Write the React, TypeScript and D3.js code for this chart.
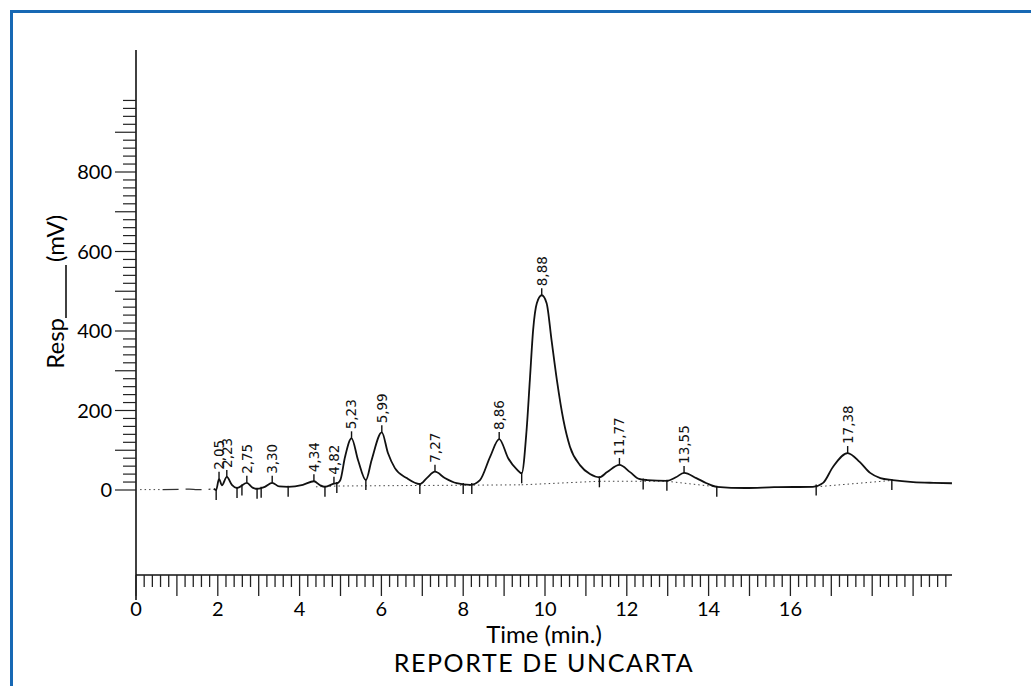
import React from "react";
import * as d3 from "d3";

type Pt = [number, number];

// trace: [time (min), response (mV)]
const leadTrace: Pt[] = [[0.65, 1], [1.3, 2], [1.5, 1], [1.82, 2]];
const trace: Pt[] = [
  [1.9, 3], [1.96, 0], [2.03, 28], [2.1, 12], [2.22, 33], [2.35, 12], [2.47, 5],
  [2.71, 18], [2.85, 6], [2.96, 3], [3.15, 8], [3.33, 18], [3.5, 9], [3.72, 8],
  [4.08, 13], [4.35, 22], [4.5, 12], [4.62, 8], [4.84, 16], [4.94, 18], [5.0, 26],
  [5.11, 83], [5.27, 130], [5.43, 75], [5.62, 25], [5.76, 75], [6.01, 145],
  [6.16, 93], [6.33, 55], [6.62, 30], [6.94, 15], [7.11, 30], [7.31, 46],
  [7.55, 30], [7.84, 17], [8.17, 13], [8.41, 25], [8.66, 84], [8.88, 128],
  [9.1, 80], [9.31, 52], [9.43, 42], [9.55, 151], [9.63, 277], [9.71, 403],
  [9.8, 470], [9.92, 490], [10.04, 470], [10.16, 377], [10.29, 277], [10.45, 176],
  [10.61, 109], [10.86, 62], [11.1, 40], [11.33, 32], [11.52, 45], [11.82, 63],
  [12.08, 45], [12.3, 28], [12.5, 25], [12.98, 23], [13.2, 32], [13.4, 43],
  [13.7, 30], [13.95, 17], [14.2, 8], [14.9, 5], [15.6, 7], [16.55, 8],
  [16.8, 18], [17.04, 58], [17.4, 93], [17.7, 70], [17.95, 43], [18.2, 30],
  [18.5, 25], [19.0, 20], [19.5, 18], [19.95, 17],
];

const peakTimes = [2.03, 2.22, 2.71, 3.33, 4.35, 4.84, 5.27, 6.01, 7.31, 8.88, 9.92, 11.82, 13.4, 17.4];
const peakLabels = ["2,05", "2,23", "2,75", "3,30", "4,34", "4,82", "5,23", "5,99", "7,27", "8,86", "8,88", "11,77", "13,55", "17,38"];

// integration marks under the trace
const markerTimes = [1.96, 2.47, 2.59, 2.96, 3.06, 3.72, 4.62, 4.91, 5.62, 6.94, 8.0, 8.21, 9.43, 11.33, 12.4, 12.98, 14.2, 16.63, 18.48];

// dotted drop baselines
const baselines: Pt[][] = [
  [[0.1, 1], [0.6, 1]],
  [[4.4, 8], [4.91, 10], [9.43, 13]],
  [[9.43, 13], [11.33, 22]],
  [[11.33, 22], [12.98, 22], [14.2, 8]],
  [[16.63, 8], [18.48, 24]],
];

const xTickLabels = [0, 2, 4, 6, 8, 10, 12, 14, 16];
const yTickLabels = [0, 200, 400, 600, 800];

const W = 1031;
const H = 686;
const font = "Lato, 'Open Sans', sans-serif";

export default function App() {
  const x = d3.scaleLinear().domain([0, 20]).range([136, 954]);
  const y = d3.scaleLinear().domain([0, 800]).range([490, 172]);
  const axisY = 575;

  const line = d3
    .line<Pt>()
    .x((d) => x(d[0]))
    .y((d) => y(d[1]))
    .curve(d3.curveMonotoneX);
  const straight = d3
    .line<Pt>()
    .x((d) => x(d[0]))
    .y((d) => y(d[1]));

  // response at a given time, linear between read points
  const bis = d3.bisector((d: Pt) => d[0]).left;
  const valueAt = (t: number) => {
    const i = bis(trace, t);
    if (i <= 0) return trace[0][1];
    if (i >= trace.length) return trace[trace.length - 1][1];
    const a = trace[i - 1];
    const b = trace[i];
    return a[1] + ((t - a[0]) / (b[0] - a[0])) * (b[1] - a[1]);
  };

  const xTicks = d3.range(0, 100).map((i) => ({ t: i * 0.2, major: i % 5 === 0 }));
  const yTicks = d3.range(0, 50).map((i) => ({ v: i * 20, major: i % 5 === 0 }));

  return (
    <svg
      width={W}
      height={H}
      style={{ position: "absolute", left: 0, top: 0, background: "#fff" }}
    >
      <rect x={0} y={0} width={W} height={H} fill="#fff" />
      {/* blue frame */}
      <rect x={11.5} y={11.5} width={1200} height={900} fill="none" stroke="#1768b4" strokeWidth={3} />

      {/* y axis */}
      <line x1={136} x2={136} y1={y(1107)} y2={600} stroke="#111" strokeWidth={1.6} />
      {yTicks.map((d, i) => (
        <line
          key={"yt" + i}
          x1={136}
          x2={136 - (d.major ? 21 : 13)}
          y1={y(d.v)}
          y2={y(d.v)}
          stroke="#222"
          strokeWidth={1.2}
        />
      ))}
      {yTickLabels.map((v) => (
        <text key={"yl" + v} x={112} y={y(v)} dy="0.36em" textAnchor="end" fontSize={20} fontFamily={font}>
          {v}
        </text>
      ))}
      <g transform="translate(64,288) rotate(-90)">
        <text x={-30} y={0} textAnchor="end" fontSize={24} fontFamily={font}>
          Resp
        </text>
        <line x1={-30} x2={23} y1={2} y2={2} stroke="#111" strokeWidth={1.6} />
        <text x={26} y={0} textAnchor="start" fontSize={24} fontFamily={font}>
          (mV)
        </text>
      </g>

      {/* x axis */}
      <line x1={136} x2={952} y1={axisY} y2={axisY} stroke="#111" strokeWidth={1.4} />
      {xTicks.map((d, i) => (
        <line
          key={"xt" + i}
          x1={x(d.t)}
          x2={x(d.t)}
          y1={axisY}
          y2={axisY + (d.major ? 21 : 12)}
          stroke="#222"
          strokeWidth={1.3}
        />
      ))}
      {xTickLabels.map((t) => (
        <text key={"xl" + t} x={x(t)} y={616} textAnchor="middle" fontSize={20} fontFamily={font}>
          {t}
        </text>
      ))}
      <text x={544} y={643} textAnchor="middle" fontSize={24} fontFamily={font}>
        Time (min.)
      </text>
      <text x={544} y={672} textAnchor="middle" fontSize={25} fontFamily={font} letterSpacing={1.6}>
        REPORTE DE UNCARTA
      </text>

      {/* dotted baselines */}
      {baselines.map((b, i) => (
        <path key={"bl" + i} d={straight(b) || ""} fill="none" stroke="#444" strokeWidth={1} strokeDasharray="1.5 3" />
      ))}

      {/* trace */}
      <path d={line(leadTrace) || ""} fill="none" stroke="#333" strokeWidth={1.2} strokeDasharray="16 7" />
      <path d={line(trace) || ""} fill="none" stroke="#111" strokeWidth={1.8} strokeLinejoin="round" />

      {/* integration marks */}
      {markerTimes.map((t, i) => {
        const cy = y(valueAt(t));
        return <line key={"m" + i} x1={x(t)} x2={x(t)} y1={cy - 1} y2={cy + 10} stroke="#111" strokeWidth={1.4} />;
      })}

      {/* peak labels */}
      {peakTimes.map((t, i) => {
        const px = x(t);
        const py = y(valueAt(t));
        return (
          <g key={"pk" + i}>
            <line x1={px} x2={px} y1={py} y2={py - 7} stroke="#111" strokeWidth={1.4} />
            <text
              transform={`translate(${px},${py - 9}) rotate(-90)`}
              dy="0.36em"
              fontSize={13.5}
              fontFamily="'DejaVu Sans', sans-serif"
              fill="#111"
            >
              {peakLabels[i]}
            </text>
          </g>
        );
      })}
    </svg>
  );
}
